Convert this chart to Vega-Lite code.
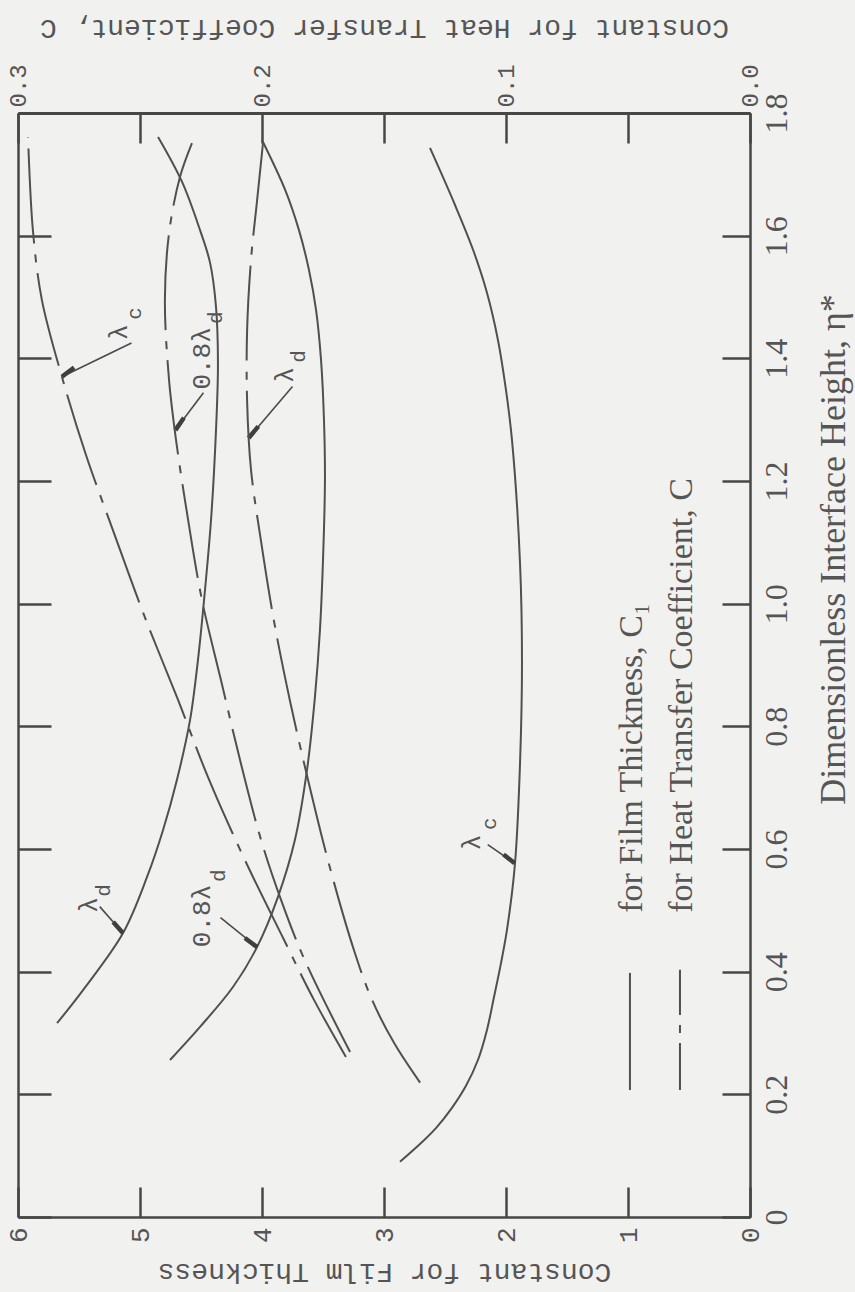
{
  "$schema": "https://vega.github.io/schema/vega-lite/v6.json",
  "width": 732,
  "height": 1104,
  "autosize": {"type": "none"},
  "padding": {"left": 18, "top": 113, "right": 105, "bottom": 75},
  "background": "#f1f1ef",
  "config": {
    "view": {"stroke": null},
    "axis": {
      "grid": false,
      "domainColor": "#474747",
      "tickColor": "#474747",
      "labelColor": "#555555",
      "titleColor": "#555555",
      "titleFontWeight": "normal",
      "labelFlush": false,
      "labelOverlap": false
    }
  },
  "datasets": {
    "film": [
      {"curve": "lambda_d", "c1": 5.680, "eta": 0.316},
      {"curve": "lambda_d", "c1": 5.467, "eta": 0.370},
      {"curve": "lambda_d", "c1": 5.139, "eta": 0.463},
      {"curve": "lambda_d", "c1": 4.943, "eta": 0.554},
      {"curve": "lambda_d", "c1": 4.811, "eta": 0.631},
      {"curve": "lambda_d", "c1": 4.697, "eta": 0.713},
      {"curve": "lambda_d", "c1": 4.590, "eta": 0.810},
      {"curve": "lambda_d", "c1": 4.525, "eta": 0.908},
      {"curve": "lambda_d", "c1": 4.475, "eta": 1.006},
      {"curve": "lambda_d", "c1": 4.418, "eta": 1.136},
      {"curve": "lambda_d", "c1": 4.377, "eta": 1.283},
      {"curve": "lambda_d", "c1": 4.361, "eta": 1.392},
      {"curve": "lambda_d", "c1": 4.377, "eta": 1.484},
      {"curve": "lambda_d", "c1": 4.426, "eta": 1.556},
      {"curve": "lambda_d", "c1": 4.508, "eta": 1.609},
      {"curve": "lambda_d", "c1": 4.656, "eta": 1.688},
      {"curve": "lambda_d", "c1": 4.852, "eta": 1.761},
      {"curve": "0.8lambda_d", "c1": 4.754, "eta": 0.256},
      {"curve": "0.8lambda_d", "c1": 4.508, "eta": 0.310},
      {"curve": "0.8lambda_d", "c1": 4.238, "eta": 0.375},
      {"curve": "0.8lambda_d", "c1": 4.041, "eta": 0.440},
      {"curve": "0.8lambda_d", "c1": 3.869, "eta": 0.522},
      {"curve": "0.8lambda_d", "c1": 3.730, "eta": 0.615},
      {"curve": "0.8lambda_d", "c1": 3.631, "eta": 0.729},
      {"curve": "0.8lambda_d", "c1": 3.566, "eta": 0.848},
      {"curve": "0.8lambda_d", "c1": 3.525, "eta": 0.957},
      {"curve": "0.8lambda_d", "c1": 3.500, "eta": 1.071},
      {"curve": "0.8lambda_d", "c1": 3.484, "eta": 1.202},
      {"curve": "0.8lambda_d", "c1": 3.492, "eta": 1.300},
      {"curve": "0.8lambda_d", "c1": 3.516, "eta": 1.397},
      {"curve": "0.8lambda_d", "c1": 3.557, "eta": 1.479},
      {"curve": "0.8lambda_d", "c1": 3.615, "eta": 1.544},
      {"curve": "0.8lambda_d", "c1": 3.697, "eta": 1.609},
      {"curve": "0.8lambda_d", "c1": 3.811, "eta": 1.675},
      {"curve": "0.8lambda_d", "c1": 4.000, "eta": 1.756},
      {"curve": "lambda_c", "c1": 2.869, "eta": 0.090},
      {"curve": "lambda_c", "c1": 2.721, "eta": 0.116},
      {"curve": "lambda_c", "c1": 2.574, "eta": 0.145},
      {"curve": "lambda_c", "c1": 2.443, "eta": 0.178},
      {"curve": "lambda_c", "c1": 2.328, "eta": 0.214},
      {"curve": "lambda_c", "c1": 2.230, "eta": 0.256},
      {"curve": "lambda_c", "c1": 2.156, "eta": 0.305},
      {"curve": "lambda_c", "c1": 2.098, "eta": 0.359},
      {"curve": "lambda_c", "c1": 2.041, "eta": 0.414},
      {"curve": "lambda_c", "c1": 1.992, "eta": 0.468},
      {"curve": "lambda_c", "c1": 1.926, "eta": 0.577},
      {"curve": "lambda_c", "c1": 1.885, "eta": 0.740},
      {"curve": "lambda_c", "c1": 1.869, "eta": 0.903},
      {"curve": "lambda_c", "c1": 1.885, "eta": 1.066},
      {"curve": "lambda_c", "c1": 1.951, "eta": 1.267},
      {"curve": "lambda_c", "c1": 2.000, "eta": 1.348},
      {"curve": "lambda_c", "c1": 2.066, "eta": 1.430},
      {"curve": "lambda_c", "c1": 2.156, "eta": 1.507},
      {"curve": "lambda_c", "c1": 2.270, "eta": 1.577},
      {"curve": "lambda_c", "c1": 2.418, "eta": 1.650},
      {"curve": "lambda_c", "c1": 2.623, "eta": 1.743}
    ],
    "heat": [
      {"curve": "lambda_c", "c": 0.2959, "eta": 1.761},
      {"curve": "lambda_c", "c": 0.2939, "eta": 1.609},
      {"curve": "lambda_c", "c": 0.2902, "eta": 1.495},
      {"curve": "lambda_c", "c": 0.2820, "eta": 1.370},
      {"curve": "lambda_c", "c": 0.2721, "eta": 1.242},
      {"curve": "lambda_c", "c": 0.2611, "eta": 1.120},
      {"curve": "lambda_c", "c": 0.2484, "eta": 0.982},
      {"curve": "lambda_c", "c": 0.2344, "eta": 0.843},
      {"curve": "lambda_c", "c": 0.2217, "eta": 0.713},
      {"curve": "lambda_c", "c": 0.2070, "eta": 0.582},
      {"curve": "lambda_c", "c": 0.1910, "eta": 0.452},
      {"curve": "lambda_c", "c": 0.1787, "eta": 0.354},
      {"curve": "lambda_c", "c": 0.1656, "eta": 0.261},
      {"curve": "0.8lambda_d", "c": 0.2287, "eta": 1.751},
      {"curve": "0.8lambda_d", "c": 0.2336, "eta": 1.696},
      {"curve": "0.8lambda_d", "c": 0.2381, "eta": 1.604},
      {"curve": "0.8lambda_d", "c": 0.2398, "eta": 1.495},
      {"curve": "0.8lambda_d", "c": 0.2381, "eta": 1.365},
      {"curve": "0.8lambda_d", "c": 0.2352, "eta": 1.266},
      {"curve": "0.8lambda_d", "c": 0.2303, "eta": 1.137},
      {"curve": "0.8lambda_d", "c": 0.2246, "eta": 1.006},
      {"curve": "0.8lambda_d", "c": 0.2168, "eta": 0.875},
      {"curve": "0.8lambda_d", "c": 0.2090, "eta": 0.745},
      {"curve": "0.8lambda_d", "c": 0.2004, "eta": 0.615},
      {"curve": "0.8lambda_d", "c": 0.1922, "eta": 0.517},
      {"curve": "0.8lambda_d", "c": 0.1824, "eta": 0.418},
      {"curve": "0.8lambda_d", "c": 0.1639, "eta": 0.269},
      {"curve": "lambda_d", "c": 0.1996, "eta": 1.751},
      {"curve": "lambda_d", "c": 0.2020, "eta": 1.658},
      {"curve": "lambda_d", "c": 0.2045, "eta": 1.561},
      {"curve": "lambda_d", "c": 0.2061, "eta": 1.446},
      {"curve": "lambda_d", "c": 0.2061, "eta": 1.330},
      {"curve": "lambda_d", "c": 0.2045, "eta": 1.218},
      {"curve": "lambda_d", "c": 0.2004, "eta": 1.102},
      {"curve": "lambda_d", "c": 0.1951, "eta": 0.972},
      {"curve": "lambda_d", "c": 0.1885, "eta": 0.841},
      {"curve": "lambda_d", "c": 0.1811, "eta": 0.712},
      {"curve": "lambda_d", "c": 0.1730, "eta": 0.582},
      {"curve": "lambda_d", "c": 0.1623, "eta": 0.435},
      {"curve": "lambda_d", "c": 0.1549, "eta": 0.354},
      {"curve": "lambda_d", "c": 0.1459, "eta": 0.284},
      {"curve": "lambda_d", "c": 0.1352, "eta": 0.219}
    ],
    "legendLines": [
      {"item": "film", "c1": 0.984, "eta": 0.398},
      {"item": "film", "c1": 0.984, "eta": 0.207},
      {"item": "heat", "c1": 0.574, "eta": 0.403},
      {"item": "heat", "c1": 0.574, "eta": 0.207}
    ],
    "legendText": [
      {"text": "for Film Thickness, C₁", "c1": 0.885, "eta": 0.496},
      {"text": "for Heat Transfer Coefficient, C", "c1": 0.475, "eta": 0.496}
    ],
    "curveLabels": [
      {"role": "main", "text": "λ", "c1": 5.11, "eta": 1.430},
      {"role": "sub", "text": "c", "c1": 4.99, "eta": 1.463},
      {"role": "main", "text": "0.8λ", "c1": 4.43, "eta": 1.349},
      {"role": "sub", "text": "d", "c1": 4.33, "eta": 1.456},
      {"role": "main", "text": "λ", "c1": 3.75, "eta": 1.360},
      {"role": "sub", "text": "d", "c1": 3.65, "eta": 1.393},
      {"role": "main", "text": "λ", "c1": 5.35, "eta": 0.496},
      {"role": "sub", "text": "d", "c1": 5.25, "eta": 0.522},
      {"role": "main", "text": "0.8λ", "c1": 4.43, "eta": 0.440},
      {"role": "sub", "text": "d", "c1": 4.30, "eta": 0.546},
      {"role": "main", "text": "λ", "c1": 2.21, "eta": 0.598},
      {"role": "sub", "text": "c", "c1": 2.08, "eta": 0.631}
    ],
    "arrows": [
      {"arrow": 1, "c1": 5.07, "eta": 1.425}, {"arrow": 1, "c1": 5.64, "eta": 1.370},
      {"arrow": 2, "c1": 4.48, "eta": 1.344}, {"arrow": 2, "c1": 4.71, "eta": 1.283},
      {"arrow": 3, "c1": 3.75, "eta": 1.354}, {"arrow": 3, "c1": 4.11, "eta": 1.270},
      {"arrow": 4, "c1": 5.33, "eta": 0.506}, {"arrow": 4, "c1": 5.14, "eta": 0.463},
      {"arrow": 5, "c1": 4.34, "eta": 0.488}, {"arrow": 5, "c1": 4.04, "eta": 0.440},
      {"arrow": 6, "c1": 2.15, "eta": 0.607}, {"arrow": 6, "c1": 1.93, "eta": 0.577}
    ],
    "arrowHeads": [
      {"arrow": 1, "c1": 5.54, "eta": 1.385}, {"arrow": 1, "c1": 5.64, "eta": 1.370},
      {"arrow": 2, "c1": 4.64, "eta": 1.303}, {"arrow": 2, "c1": 4.71, "eta": 1.283},
      {"arrow": 3, "c1": 4.03, "eta": 1.289}, {"arrow": 3, "c1": 4.11, "eta": 1.270},
      {"arrow": 4, "c1": 5.22, "eta": 0.481}, {"arrow": 4, "c1": 5.14, "eta": 0.463},
      {"arrow": 5, "c1": 4.14, "eta": 0.455}, {"arrow": 5, "c1": 4.04, "eta": 0.440},
      {"arrow": 6, "c1": 2.02, "eta": 0.591}, {"arrow": 6, "c1": 1.93, "eta": 0.577}
    ]
  },
  "resolve": {
    "scale": {"x": "independent"},
    "axis": {"x": "independent", "y": "independent"}
  },
  "layer": [
    {
      "layer": [
        {
          "data": {"name": "film"},
          "mark": {"type": "line", "interpolate": "catmull-rom", "stroke": "#505050", "strokeWidth": 2},
          "encoding": {
            "x": {
              "field": "c1",
              "type": "quantitative",
              "scale": {"domain": [0, 6], "reverse": true, "nice": false, "zero": false},
              "axis": {
                "orient": "bottom",
                "values": [0, 1, 2, 3, 4, 5, 6],
                "format": "d",
                "labelAngle": -90,
                "labelAlign": "right",
                "labelBaseline": "middle",
                "labelFont": "Liberation Mono",
                "labelFontSize": 26,
                "labelPadding": 40,
                "tickSize": -30,
                "tickWidth": 2.5,
                "domainWidth": 2.5,
                "title": "Constant for Film Thickness",
                "titleFont": "Liberation Mono",
                "titleFontSize": 28,
                "titleAngle": 180,
                "titleBaseline": "middle",
                "titleY": 54
              }
            },
            "y": {
              "field": "eta",
              "type": "quantitative",
              "scale": {"domain": [0, 1.8], "nice": false, "zero": false},
              "axis": {
                "orient": "right",
                "values": [0, 0.2, 0.4, 0.6, 0.8, 1.0, 1.2, 1.4, 1.6, 1.8],
                "labelExpr": "datum.value == 0 ? '0' : format(datum.value, '.1f')",
                "labelAngle": -90,
                "labelAlign": "center",
                "labelBaseline": "top",
                "labelFont": "Liberation Serif",
                "labelFontSize": 32,
                "labelPadding": 39,
                "tickSize": -28,
                "tickWidth": 2.5,
                "domainWidth": 2.5,
                "title": "Dimensionless Interface Height, η*",
                "titleFont": "Liberation Serif",
                "titleFontSize": 36,
                "titleAngle": -90,
                "titleAlign": "center",
                "titleBaseline": "middle",
                "titleX": 83,
                "titleY": 436
              }
            },
            "detail": {"field": "curve"},
            "order": {"field": "eta"}
          }
        },
        {
          "data": {"name": "legendLines"},
          "transform": [{"filter": "datum.item === 'film'"}],
          "mark": {"type": "line", "stroke": "#505050", "strokeWidth": 2},
          "encoding": {
            "x": {"field": "c1", "type": "quantitative"},
            "y": {"field": "eta", "type": "quantitative"},
            "order": {"field": "eta"}
          }
        },
        {
          "data": {"name": "legendLines"},
          "transform": [{"filter": "datum.item === 'heat'"}],
          "mark": {"type": "line", "stroke": "#505050", "strokeWidth": 2, "strokeDash": [47, 10, 8, 10]},
          "encoding": {
            "x": {"field": "c1", "type": "quantitative"},
            "y": {"field": "eta", "type": "quantitative"},
            "order": {"field": "eta"}
          }
        },
        {
          "data": {"name": "legendText"},
          "mark": {"type": "text", "angle": -90, "align": "left", "baseline": "alphabetic", "font": "Liberation Serif", "fontSize": 34, "fill": "#555555"},
          "encoding": {
            "x": {"field": "c1", "type": "quantitative"},
            "y": {"field": "eta", "type": "quantitative"},
            "text": {"field": "text"}
          }
        },
        {
          "data": {"name": "arrows"},
          "mark": {"type": "line", "stroke": "#4a4a4a", "strokeWidth": 1.6},
          "encoding": {
            "x": {"field": "c1", "type": "quantitative"},
            "y": {"field": "eta", "type": "quantitative"},
            "detail": {"field": "arrow"}
          }
        },
        {
          "data": {"name": "arrowHeads"},
          "mark": {"type": "line", "stroke": "#3f3f3f", "strokeWidth": 4.5, "strokeCap": "butt"},
          "encoding": {
            "x": {"field": "c1", "type": "quantitative"},
            "y": {"field": "eta", "type": "quantitative"},
            "detail": {"field": "arrow"}
          }
        },
        {
          "data": {"name": "curveLabels"},
          "transform": [{"filter": "datum.role === 'main'"}],
          "mark": {"type": "text", "angle": -90, "align": "left", "baseline": "alphabetic", "font": "Liberation Mono", "fontSize": 26, "fill": "#555555"},
          "encoding": {
            "x": {"field": "c1", "type": "quantitative"},
            "y": {"field": "eta", "type": "quantitative"},
            "text": {"field": "text"}
          }
        },
        {
          "data": {"name": "curveLabels"},
          "transform": [{"filter": "datum.role === 'sub'"}],
          "mark": {"type": "text", "angle": -90, "align": "left", "baseline": "alphabetic", "font": "Liberation Mono", "fontSize": 21, "fill": "#555555"},
          "encoding": {
            "x": {"field": "c1", "type": "quantitative"},
            "y": {"field": "eta", "type": "quantitative"},
            "text": {"field": "text"}
          }
        }
      ]
    },
    {
      "data": {"name": "heat"},
      "mark": {"type": "line", "interpolate": "catmull-rom", "stroke": "#505050", "strokeWidth": 2, "strokeDash": [95, 11, 8, 11]},
      "encoding": {
        "x": {
          "field": "c",
          "type": "quantitative",
          "scale": {"domain": [0, 0.3], "reverse": true, "nice": false, "zero": false},
          "axis": {
            "orient": "top",
            "values": [0, 0.05, 0.1, 0.15, 0.2, 0.25, 0.3],
            "labelExpr": "round(datum.value * 20) % 2 == 0 ? format(datum.value, '.1f') : ''",
            "labelAngle": -90,
            "labelAlign": "left",
            "labelBaseline": "middle",
            "labelFont": "Liberation Mono",
            "labelFontSize": 24,
            "labelPadding": 36,
            "tickSize": -30,
            "tickWidth": 2.5,
            "domainWidth": 3,
            "title": "Constant for Heat Transfer Coefficient, C",
            "titleFont": "Liberation Mono",
            "titleFontSize": 28,
            "titleAngle": 180,
            "titleBaseline": "middle",
            "titleY": -86
          }
        },
        "y": {
          "field": "eta",
          "type": "quantitative",
          "axis": {
            "orient": "left",
            "values": [0, 0.2, 0.4, 0.6, 0.8, 1.0, 1.2, 1.4, 1.6, 1.8],
            "labels": false,
            "title": null,
            "tickSize": -33,
            "tickWidth": 2.5,
            "domainWidth": 2.5
          }
        },
        "detail": {"field": "curve"},
        "order": {"field": "eta"}
      }
    }
  ]
}
